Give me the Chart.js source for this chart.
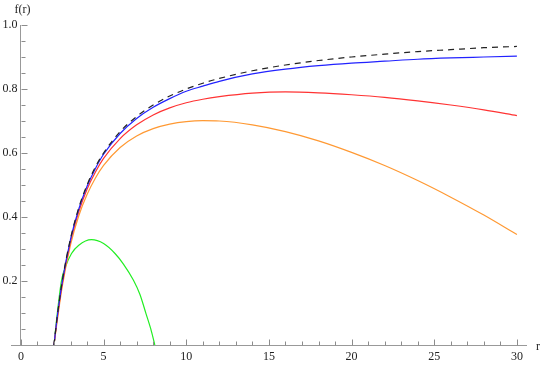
<!DOCTYPE html>
<html><head><meta charset="utf-8">
<script src="https://cdn.jsdelivr.net/npm/chart.js@4.4.0/dist/chart.umd.min.js"></script>
<style>html,body{margin:0;padding:0;background:#fff;}canvas{display:block;}</style>
</head><body>
<canvas id="c" width="545" height="365"></canvas>
<script>
// ---- data ----
const rMain = [2, 2.2, 2.5, 3, 3.5, 4, 4.5, 5, 6, 7, 8, 9, 10, 11, 12, 14, 16, 18, 20, 22, 24, 26, 28, 30];
const fDashed = [0, 0.091, 0.200, 0.333, 0.429, 0.500, 0.556, 0.600, 0.667, 0.714, 0.750, 0.778, 0.800, 0.818, 0.833, 0.857, 0.875, 0.889, 0.900, 0.909, 0.917, 0.923, 0.929, 0.933];
const fBlue   = [0, 0.089, 0.197, 0.330, 0.425, 0.496, 0.551, 0.596, 0.661, 0.708, 0.743, 0.770, 0.793, 0.809, 0.824, 0.847, 0.862, 0.873, 0.881, 0.887, 0.893, 0.897, 0.900, 0.903];
const fRed    = [0, 0.085, 0.192, 0.324, 0.417, 0.487, 0.540, 0.583, 0.645, 0.688, 0.719, 0.741, 0.757, 0.768, 0.776, 0.787, 0.791, 0.788, 0.782, 0.774, 0.763, 0.750, 0.735, 0.717];
const fOrange = [0, 0.077, 0.183, 0.313, 0.404, 0.470, 0.521, 0.561, 0.617, 0.653, 0.676, 0.690, 0.698, 0.701, 0.700, 0.688, 0.667, 0.638, 0.602, 0.561, 0.514, 0.462, 0.406, 0.345];
const rGreen  = [2, 2.2, 2.46, 2.7, 3.06, 3.5, 4.27, 5.0, 5.69, 6.2, 6.8, 7.2, 7.56, 7.85, 8.1];
const fGreen  = [0, 0.099, 0.203, 0.245, 0.286, 0.312, 0.329, 0.317, 0.286, 0.253, 0.203, 0.158, 0.099, 0.051, 0];

const xTickValues = [0, 5, 10, 15, 20, 25, 30];
const xTickLabels = ['0', '5', '10', '15', '20', '25', '30'];
const xMinorValues = [1,2,3,4,6,7,8,9,11,12,13,14,16,17,18,19,21,22,23,24,26,27,28,29];
const yTickValues = [0.2, 0.4, 0.6, 0.8, 1.0];
const yTickLabels = ['0.2', '0.4', '0.6', '0.8', '1.0'];
const yMinorValues = [0.05,0.1,0.15,0.25,0.3,0.35,0.45,0.5,0.55,0.65,0.7,0.75,0.85,0.9,0.95];
const xAxisTitle = 'r';
const yAxisTitle = 'f(r)';

const pts = (xs, ys) => xs.map((v, i) => ({x: v, y: ys[i]}));
const FONT = "'Liberation Serif', 'Times New Roman', serif";

const line = (data, color, extra) => Object.assign({
  data, borderColor: color, borderWidth: 1.2, pointRadius: 0, fill: false,
  cubicInterpolationMode: 'monotone'
}, extra || {});

const axisDecor = {
  id: 'axisDecor',
  afterDraw(chart) {
    const {ctx, scales: {x, y}} = chart;
    const ax = Math.round(x.getPixelForValue(0)) + 0.5;
    const ay = Math.round(y.getPixelForValue(0)) + 0.5;
    ctx.save();
    ctx.strokeStyle = '#8c8c8c';
    ctx.lineWidth = 1;
    ctx.beginPath();
    xTickValues.forEach(v => { const p = Math.round(x.getPixelForValue(v)) + 0.5; ctx.moveTo(p, ay); ctx.lineTo(p, ay - 6); });
    xMinorValues.forEach(v => { const p = Math.round(x.getPixelForValue(v)) + 0.5; ctx.moveTo(p, ay); ctx.lineTo(p, ay - 4); });
    yTickValues.forEach(v => { const p = Math.round(y.getPixelForValue(v)) + 0.5; ctx.moveTo(ax, p); ctx.lineTo(ax + 6, p); });
    yMinorValues.forEach(v => { const p = Math.round(y.getPixelForValue(v)) + 0.5; ctx.moveTo(ax, p); ctx.lineTo(ax + 4, p); });
    ctx.stroke();
    ctx.fillStyle = '#222';
    ctx.font = '12px ' + FONT;
    ctx.textAlign = 'right';
    ctx.textBaseline = 'middle';
    yTickValues.forEach((v, i) => ctx.fillText(yTickLabels[i], ax - 4, y.getPixelForValue(v)));
    ctx.textAlign = 'center';
    ctx.fillText(yAxisTitle, ax + 1, 10);
    ctx.textAlign = 'left';
    ctx.fillText(xAxisTitle, 536, ay + 1);
    ctx.restore();
  }
};

new Chart(document.getElementById('c'), {
  type: 'line',
  data: {
    datasets: [
      line(pts(rMain, fDashed), '#222222', {borderDash: [6, 5]}),
      line(pts(rMain, fBlue), '#2222ff'),
      line(pts(rMain, fRed), '#ff3333'),
      line(pts(rMain, fOrange), '#ff9933'),
      line(pts(rGreen, fGreen), '#22ee22')
    ]
  },
  options: {
    responsive: false,
    animation: false,
    devicePixelRatio: 1,
    layout: {padding: {left: 11, right: 19, top: 25, bottom: 20}},
    plugins: {legend: {display: false}, tooltip: {enabled: false}},
    scales: {
      x: {
        type: 'linear', min: -0.6, max: 30.55,
        position: {y: 0},
        grid: {display: false, drawTicks: false},
        border: {display: true, color: '#999', width: 1},
        afterBuildTicks: s => { s.ticks = xTickValues.map(v => ({value: v})); },
        ticks: {
          padding: 5, autoSkip: false, maxRotation: 0, color: '#222',
          font: {family: FONT, size: 12},
          callback: (v, i) => xTickLabels[i]
        }
      },
      y: {
        type: 'linear', min: 0, max: 1.0,
        position: {x: 0},
        grid: {display: false, drawTicks: false},
        border: {display: true, color: '#999', width: 1},
        afterBuildTicks: s => { s.ticks = yTickValues.map(v => ({value: v})); },
        ticks: {display: false}
      }
    }
  },
  plugins: [axisDecor]
});
</script>
</body></html>
